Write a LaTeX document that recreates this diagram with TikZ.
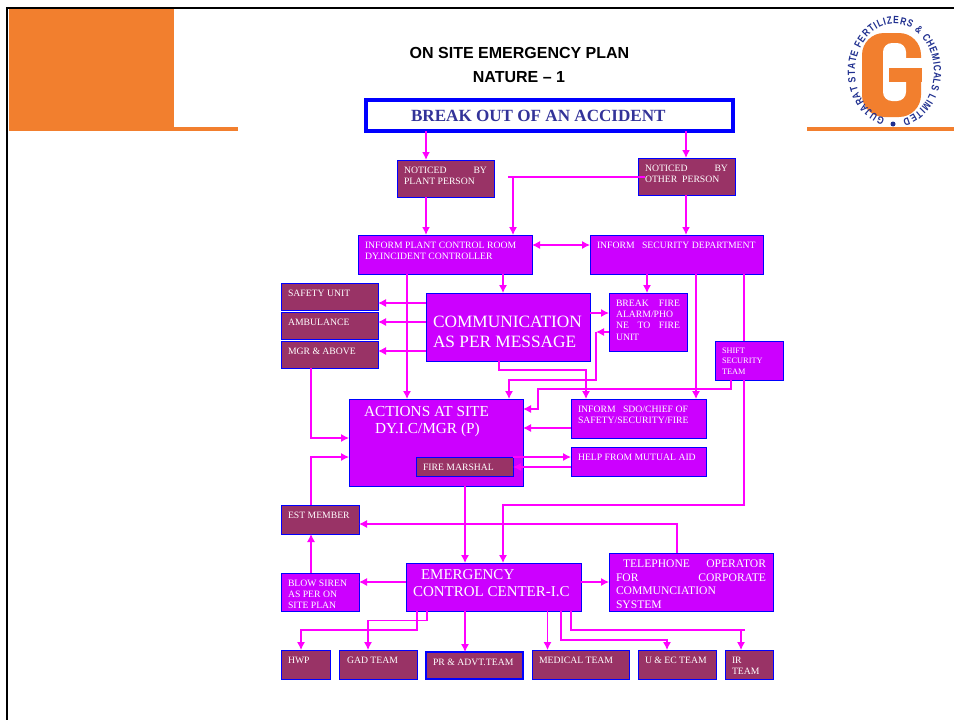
\documentclass[tikz,border=0pt]{standalone}
\usepackage{fontspec}
\setmainfont{Liberation Serif}
\newfontfamily\headfont{Liberation Sans}
\newfontfamily\logofont[FakeStretch=0.8]{Liberation Sans}
\usetikzlibrary{decorations.text,arrows.meta}
\definecolor{planorange}{HTML}{F27F2E}
\definecolor{boxpurple}{HTML}{CC00FF}
\definecolor{boxmaroon}{HTML}{993366}
\definecolor{linkpink}{HTML}{FF00FF}
\definecolor{titleblue}{HTML}{333399}
\definecolor{logoblue}{HTML}{1F2F8F}
\newcommand{\boxtext}[3]{\parbox[c][\dimexpr#2pt-14pt][t]{\dimexpr#1pt-14pt}{#3}}
\tikzset{
  >={Latex[length=8pt,width=8pt]},
  purplebox/.style={draw=blue,fill=boxpurple,line width=1pt,text=white,anchor=north west,
    inner xsep=7pt,inner ysep=7pt,outer sep=0pt,font=\fontsize{9.7}{11.2}\selectfont},
  maroonbox/.style={purplebox,fill=boxmaroon},
  bigtext/.style 2 args={font=\fontsize{#1}{#2}\selectfont},
  link/.style={linkpink,line width=1.1pt},
  flow/.style={link,->},
  heavyflow/.style={link,->,line width=1.8pt},
}
\begin{document}
\begin{tikzpicture}[x=1pt,y=-1pt]
    \useasboundingbox (0,0) rectangle (954,720);
    \fill[white] (0,0) rectangle (954,720);
    \fill[planorange] (9,9) rectangle (174,131);
    \fill[planorange] (174,127) rectangle (238,131);
    \fill[planorange] (807,127) rectangle (954,131);
    \draw[line width=2pt] (7,720)--(7,8)--(954,8);

    \fill[planorange,rounded corners=22pt] (862,33) rectangle (921,117);
    \fill[white,rounded corners=9pt] (883,43) rectangle (906,101);
    \fill[white] (900,58) rectangle (922,68);
    \fill[planorange] (889,68) rectangle (922,82);
    \path[decorate,decoration={text along path,text align=fit to path,
      text={|\logofont\bfseries\fontsize{10.5}{10.5}\selectfont\color{logoblue}|GUJARAT STATE FERTILIZERS {\&} CHEMICALS LIMITED}}]
      ([shift={(256:39.5pt and 48pt)}]894.5,72) arc[start angle=256,end angle=-78,x radius=39.5pt,y radius=48pt];
    \node[circle,fill=logoblue,inner sep=0pt,minimum size=5pt] (logodot) at (893,124) {};

    \node[font=\headfont\bfseries\fontsize{16}{18}\selectfont] (plantitle) at (519.5,53) {ON SITE EMERGENCY PLAN};
    \node[font=\headfont\bfseries\fontsize{16}{18}\selectfont] (plannature) at (519,77) {NATURE – 1};

    \node[draw=blue,line width=4pt,anchor=north west,outer sep=0pt,inner xsep=0pt,inner ysep=0pt,
      minimum width=367,minimum height=31,text=titleblue,font=\bfseries\fontsize{17.1}{20}\selectfont]
      (breakout) at (366,100) {\parbox{367pt}{\hspace*{45pt}BREAK OUT OF AN ACCIDENT}};

    \node[maroonbox] (noticedplant) at (397,160) {\boxtext{97}{37}{NOTICED\hfill BY\\PLANT PERSON}};
    \node[maroonbox] (noticedother) at (638,158) {\boxtext{97}{37}{NOTICED\hfill BY\\OTHER\ \ PERSON}};
    \node[purplebox] (informplant) at (358,235) {\boxtext{174}{39}{INFORM PLANT CONTROL ROOM\\DY.INCIDENT CONTROLLER}};
    \node[purplebox] (informsecurity) at (590,235) {\boxtext{173}{39}{INFORM\ \ \ SECURITY DEPARTMENT}};

    \node[maroonbox] (safetyunit) at (281,283) {\boxtext{97}{27}{SAFETY UNIT}};
    \node[maroonbox] (ambulance) at (281,312) {\boxtext{97}{27}{AMBULANCE}};
    \node[maroonbox] (mgrabove) at (281,341) {\boxtext{97}{27}{MGR \& ABOVE}};
    \node[purplebox,bigtext={17.3}{20}] (communication) at (426,293) {\boxtext{164}{68}{\vspace*{16pt}COMMUNICATION\\AS PER MESSAGE}};
    \node[purplebox] (breakfire) at (609,293) {\boxtext{78}{58}{BREAK\hfill FIRE\\ALARM/PHO\\NE\hfill TO\hfill FIRE\\UNIT}};
    \node[purplebox,font=\fontsize{8.3}{10.3}\selectfont] (shiftteam) at (715,341) {\boxtext{68}{39}{SHIFT\\SECURITY\\TEAM}};

    \node[purplebox,bigtext={15.3}{17}] (actions) at (349,399) {\boxtext{174}{87}{\hspace*{8pt}ACTIONS AT SITE\\\hspace*{19pt}DY.I.C/MGR (P)}};
    \node[maroonbox] (firemarshal) at (416,457) {\boxtext{97}{19}{FIRE MARSHAL}};
    \node[purplebox] (informsdo) at (571,399) {\boxtext{135}{39}{INFORM\ \ \ SDO/CHIEF OF\\SAFETY/SECURITY/FIRE}};
    \node[purplebox] (mutualaid) at (571,447) {\boxtext{135}{29}{HELP FROM MUTUAL AID}};

    \node[maroonbox] (estmember) at (281,505) {\boxtext{78}{29}{EST MEMBER}};
    \node[purplebox] (blowsiren) at (281,573) {\boxtext{78}{38}{BLOW SIREN\\AS PER ON\\SITE PLAN}};
    \node[purplebox,bigtext={15}{17}] (controlcenter) at (406,563) {\boxtext{175}{48}{\hspace*{8pt}EMERGENCY\\CONTROL CENTER-I.C}};
    \node[purplebox,bigtext={11.6}{13.6}] (telephone) at (609,553) {\boxtext{164}{58}{\hspace*{7pt}TELEPHONE\hfill OPERATOR\\FOR\hfill CORPORATE\\COMMUNCIATION\\SYSTEM}};

    \node[maroonbox] (hwp) at (281,650) {\boxtext{49}{29}{HWP}};
    \node[maroonbox] (gadteam) at (339,650) {\boxtext{78}{29}{\hspace*{1pt}GAD TEAM}};
    \node[maroonbox,line width=1.5pt] (prteam) at (426,652) {\boxtext{97}{27}{PR \& ADVT.TEAM}};
    \node[maroonbox] (medicalteam) at (532,650) {\boxtext{97}{29}{MEDICAL TEAM}};
    \node[maroonbox] (uecteam) at (638,650) {\boxtext{78}{29}{U \& EC TEAM}};
    \node[maroonbox] (irteam) at (725,650) {\boxtext{48}{29}{IR\\TEAM}};

    \coordinate (otherjoin) at (513,177);
    \coordinate (alarmturn) at (596,332);
    \draw[heavyflow] (426,0 |- breakout.south)--(426,0 |- noticedplant.north);
    \draw[heavyflow] (686,0 |- breakout.south)--(686,0 |- noticedother.north);
    \draw[heavyflow] (426,0 |- noticedplant.south)--(426,0 |- informplant.north);
    \draw[heavyflow] (686,0 |- noticedother.south)--(686,0 |- informsecurity.north);
    \draw[link] (645,177)--(508,177);
    \draw[flow] (otherjoin)--(otherjoin |- informplant.north);
    \draw[flow,<->] (informplant.east |- 0,245)--(informsecurity.west |- 0,245);
    \draw[flow] (503,0 |- informplant.south)--(503,0 |- communication.north);
    \draw[flow] (407,0 |- informplant.south)--(407,0 |- actions.north);
    \draw[flow] (647,0 |- informsecurity.south)--(647,0 |- breakfire.north);
    \draw[flow] (696,0 |- informsecurity.south)--(696,0 |- informsdo.north);
    \draw[link] (744,0 |- informsecurity.south)--(744,0 |- shiftteam.north);

    \draw[flow] (communication.west |- 0,303)--(safetyunit.east |- 0,303);
    \draw[flow] (communication.west |- 0,322)--(ambulance.east |- 0,322);
    \draw[flow] (communication.west |- 0,351)--(mgrabove.east |- 0,351);
    \draw[flow] (communication.east |- 0,313)--(breakfire.west |- 0,313);
    \draw[flow] (499,0 |- communication.south)--(499,370)--(586,370)--(586,0 |- informsdo.north);
    \draw[flow] (breakfire.west |- alarmturn)--(alarmturn);
    \draw[flow] (alarmturn)--(596,380)--(509,380)--(509,0 |- actions.north);
    \draw[flow] (731,0 |- shiftteam.south)--(731,389)--(538,389)--(538,409)--(actions.east |- 0,409);
    \draw[flow] (informsdo.west |- 0,428)--(actions.east |- 0,428);
    \draw[flow] (firemarshal.east |- 0,457)--(mutualaid.west |- 0,457);
    \draw[flow] (mutualaid.west |- 0,467)--(firemarshal.east |- 0,467);
    \draw[flow] (311,0 |- mgrabove.south)--(311,438)--(actions.west |- 0,438);
    \draw[flow] (311,0 |- estmember.north)--(311,457)--(actions.west |- 0,457);

    \draw[flow] (744,0 |- shiftteam.south)--(744,505)--(503,505)--(503,0 |- controlcenter.north);
    \draw[flow] (465,0 |- actions.south)--(465,0 |- controlcenter.north);
    \draw[flow] (677,0 |- telephone.north)--(677,524)--(estmember.east |- 0,524);
    \draw[flow] (311,0 |- blowsiren.north)--(311,0 |- estmember.south);
    \draw[flow] (controlcenter.west |- 0,582)--(blowsiren.east |- 0,582);
    \draw[flow] (controlcenter.east |- 0,582)--(telephone.west |- 0,582);

    \draw[flow] (417,0 |- controlcenter.south)--(417,630)--(301,630)--(301,0 |- hwp.north);
    \draw[flow] (427,0 |- controlcenter.south)--(427,620.5)--(368,620.5)--(368,0 |- gadteam.north);
    \draw[flow] (465,0 |- controlcenter.south)--(465,0 |- prteam.north);
    \draw[flow] (547.5,0 |- controlcenter.south)--(547.5,0 |- medicalteam.north);
    \draw[flow] (561,0 |- controlcenter.south)--(561,640)--(667,640)--(667,0 |- uecteam.north);
    \draw[link] (571,0 |- controlcenter.south)--(571,630)--(745,630);
    \draw[flow] (741,630)--(741,0 |- irteam.north);
\end{tikzpicture}
\end{document}
